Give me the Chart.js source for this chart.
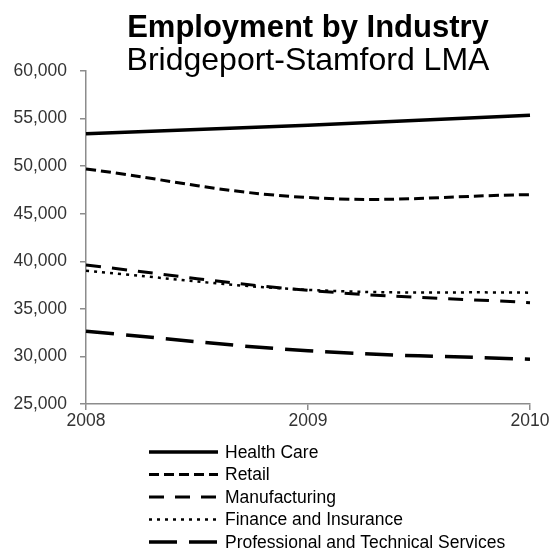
<!DOCTYPE html>
<html>
<head>
<meta charset="utf-8">
<script src="https://cdn.jsdelivr.net/npm/chart.js@4"></script>
<style>
  html, body { margin: 0; padding: 0; background: #fff; }
  #chart { display: block; }
</style>
</head>
<body>
<canvas id="chart" width="554" height="552"></canvas>
<script>
const years = ['2008', '2009', '2010'];
const healthCare = [53400, 54300, 55350];
const retail = [49700, 46700, 47000];
const manufacturing = [39600, 36950, 35650];
const finance = [39000, 37000, 36700];
const professional = [32650, 30600, 29700];
const yTicks = [25000, 30000, 35000, 40000, 45000, 50000, 55000, 60000];

const FONT = "'Liberation Sans', Arial, sans-serif";
const axisGray = '#8c8c8c';

// titles + line-style legend drawn on the canvas
const titlesAndLegend = {
  id: 'titlesAndLegend',
  afterDraw(chart) {
    const ctx = chart.ctx;
    const area = chart.chartArea;
    const cx = (area.left + area.right) / 2;
    ctx.save();
    ctx.fillStyle = '#000';
    ctx.textAlign = 'center';
    ctx.textBaseline = 'alphabetic';
    ctx.font = 'bold 31px ' + FONT;
    ctx.fillText('Employment by Industry', cx, 37);
    ctx.font = '32px ' + FONT;
    ctx.fillText('Bridgeport-Stamford LMA', cx, 70);

    ctx.textAlign = 'left';
    ctx.textBaseline = 'middle';
    ctx.font = '17.5px ' + FONT;
    chart.data.datasets.forEach((ds, i) => {
      const y = 452 + i * 22.5;
      ctx.beginPath();
      ctx.setLineDash(ds.borderDash || []);
      ctx.lineWidth = ds.borderWidth;
      ctx.strokeStyle = ds.borderColor;
      ctx.moveTo(149, y);
      ctx.lineTo(218, y);
      ctx.stroke();
      ctx.setLineDash([]);
      ctx.fillText(ds.label, 225, y + 1);
    });
    ctx.restore();
  }
};

new Chart(document.getElementById('chart'), {
  type: 'line',
  data: {
    labels: years,
    datasets: [
      { label: 'Health Care', data: healthCare, borderColor: '#000', borderWidth: 3.5, borderDash: [] },
      { label: 'Retail', data: retail, borderColor: '#000', borderWidth: 3, borderDash: [10, 5] },
      { label: 'Manufacturing', data: manufacturing, borderColor: '#000', borderWidth: 3, borderDash: [15, 11] },
      { label: 'Finance and Insurance', data: finance, borderColor: '#000', borderWidth: 2.5, borderDash: [3, 5] },
      { label: 'Professional and Technical Services', data: professional, borderColor: '#000', borderWidth: 3.5, borderDash: [28, 12] }
    ]
  },
  options: {
    responsive: false,
    animation: false,
    layout: { padding: { top: 71, right: 24, bottom: 118, left: 0 } },
    elements: {
      point: { radius: 0 },
      line: { tension: 0.4, fill: false }
    },
    plugins: {
      legend: { display: false },
      title: { display: false },
      tooltip: { enabled: false }
    },
    scales: {
      x: {
        offset: false,
        afterFit(scale) { scale.height = 30; },
        border: { display: true, color: axisGray, width: 1.5 },
        grid: { drawOnChartArea: false, drawTicks: true, tickLength: 6, color: axisGray, lineWidth: 1.5 },
        ticks: { color: '#333', font: { family: FONT, size: 17.5 }, padding: 1, maxRotation: 0 }
      },
      y: {
        min: 25000,
        max: 60000,
        afterFit(scale) { scale.width = 86; },
        afterBuildTicks(scale) { scale.ticks = yTicks.map(v => ({ value: v })); },
        border: { display: true, color: axisGray, width: 1.5 },
        grid: { drawOnChartArea: false, drawTicks: true, tickLength: 6, color: axisGray, lineWidth: 1.5 },
        ticks: {
          color: '#333',
          font: { family: FONT, size: 17.5 },
          padding: 13,
          callback: v => v.toLocaleString('en-US')
        }
      }
    }
  },
  plugins: [titlesAndLegend]
});
</script>
</body>
</html>
